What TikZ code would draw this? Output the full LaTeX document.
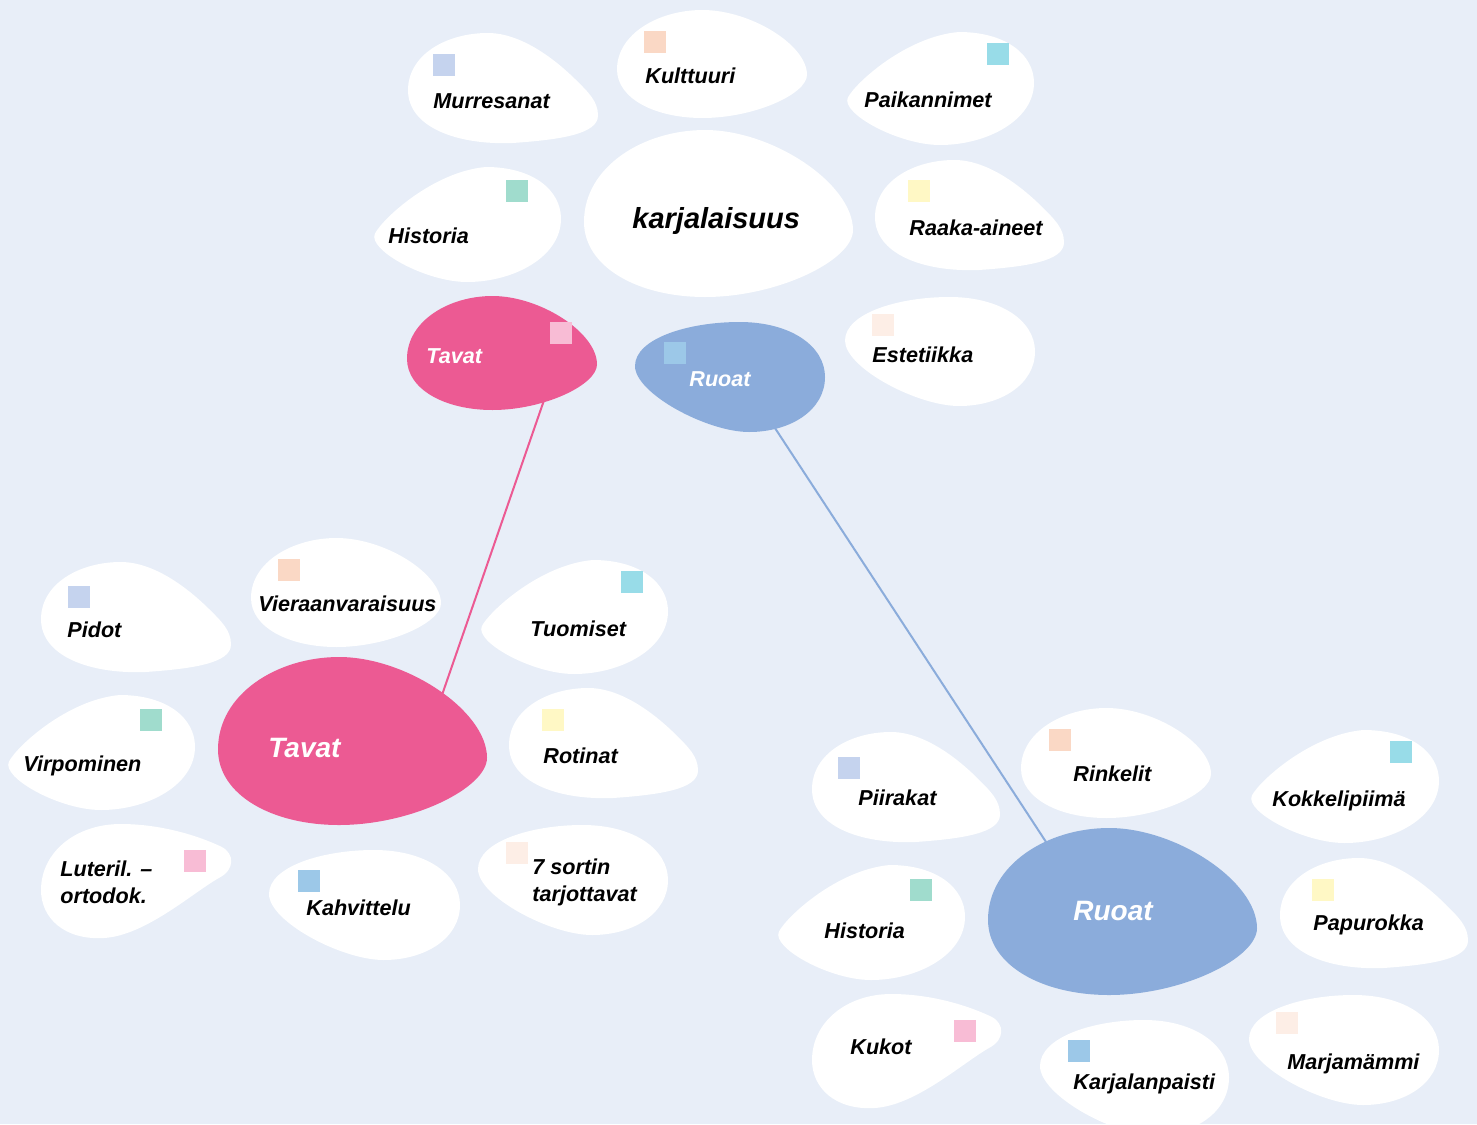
\documentclass[tikz,border=0pt]{standalone}
\usepackage{fontspec}
\setmainfont{Liberation Sans}
\definecolor{bg}{HTML}{E8EEF8}
\definecolor{tpink}{HTML}{EC5A93}
\definecolor{rblue}{HTML}{8BACDB}
\definecolor{clav}{HTML}{C5D3EE}
\definecolor{cpeach}{HTML}{FAD8C5}
\definecolor{ccyan}{HTML}{98DCE8}
\definecolor{cmint}{HTML}{A0DCCD}
\definecolor{cyell}{HTML}{FFF8C5}
\definecolor{cpink}{HTML}{F8BCD5}
\definecolor{csky}{HTML}{9CC8E8}
\definecolor{cblush}{HTML}{FDEEE6}
\tikzset{
blobA/.pic={\path[pic actions](0,.52) .. controls (0,.2) and (.2,0) .. (.42,0) .. controls (.6,0) and (.78,.25) .. (.88,.42) .. controls (.95,.54) and (1,.62) .. (1,.75) .. controls (1,.92) and (.8,.97) .. (.55,1) .. controls (.25,1.02) and (0,.85) .. (0,.52) -- cycle;},
blobB/.pic={\path[pic actions](0,.55) .. controls (0,.22) and (.22,0) .. (.45,0) .. controls (.7,0) and (1,.32) .. (1,.6) .. controls (1,.78) and (.72,1) .. (.45,1) .. controls (.2,1) and (0,.82) .. (0,.55) -- cycle;},
blobC/.pic={\path[pic actions](.01,.58) .. controls (.05,.45) and (.32,.04) .. (.6,0) .. controls (.85,0) and (1,.2) .. (1,.45) .. controls (1,.78) and (.75,1) .. (.5,1) .. controls (.28,1) and (-.03,.72) .. (.01,.58) -- cycle;},
blobD/.pic={\path[pic actions](0,.4) .. controls (0,.15) and (.28,0) .. (.55,0) .. controls (.82,0) and (1,.22) .. (1,.5) .. controls (1,.8) and (.82,1) .. (.6,1) .. controls (.38,1) and (0,.65) .. (0,.4) -- cycle;},
blobE/.pic={\path[pic actions](0,.58) .. controls (0,.25) and (.18,0) .. (.42,0) .. controls (.65,0) and (.85,.12) .. (.95,.2) .. controls (1.02,.26) and (1.02,.4) .. (.94,.47) .. controls (.8,.6) and (.55,.98) .. (.33,1) .. controls (.12,1.02) and (0,.82) .. (0,.58) -- cycle;}
}
\begin{document}
\begin{tikzpicture}[x=0.5pt,y=-0.5pt]
\tikzstyle{lb} = [anchor=base west,inner sep=0,font=\bfseries\itshape\fontsize{10.8}{13.5}\selectfont] %label
\tikzstyle{lm} = [lb,anchor=north west,align=left] %two-line label
\tikzstyle{lw} = [lb,text=white] %label on coloured blob
\tikzstyle{lbig} = [lw,font=\bfseries\itshape\fontsize{14}{16}\selectfont] %big label
\tikzstyle{sq} = [anchor=north west,inner sep=0,minimum size=11pt] %colour square
\tikzstyle{ln} = [line width=1pt] %connector
\useasboundingbox(0,0)rectangle(1477,1124);
\clip(0,0)rectangle(1477,1124);
\fill[bg](0,0)rectangle(1477,1124);
% connectors
\coordinate(ct1)at(552.6,375.4);
\coordinate(ct2)at(440.4,699.6);
\coordinate(cr1)at(768.6,418.3);
\coordinate(cr2)at(1052.4,851.7);
\draw[ln,tpink](ct1)--(ct2);
\draw[ln,rblue](cr1)--(cr2);
% top group
\pic[fill=white,xscale=190,yscale=110]at(408,33){blobA};
\pic[fill=white,xscale=190,yscale=108]at(617,10){blobB};
\pic[fill=white,xscale=188,yscale=113]at(846,32){blobC};
\pic[fill=white,xscale=188,yscale=115]at(373,167){blobC};
\pic[fill=white,xscale=269,yscale=167]at(584,130){blobB};
\pic[fill=white,xscale=189,yscale=110]at(875,160){blobA};
\pic[fill=tpink,xscale=190,yscale=114]at(407,296){blobB};
\pic[fill=rblue,xscale=190,yscale=110]at(635,322){blobD};
\pic[fill=white,xscale=190,yscale=109]at(845,297){blobD};
\node[sq,fill=clav](smur)at(433,54){};
\node[sq,fill=cpeach](skul)at(644,31){};
\node[sq,fill=ccyan](spai)at(987,43){};
\node[sq,fill=cmint](shis)at(506,180){};
\node[sq,fill=cyell](sraa)at(908,180){};
\node[sq,fill=cpink](stav)at(550,322){};
\node[sq,fill=csky](sruo)at(664,342){};
\node[sq,fill=cblush](sest)at(872,314){};
\node[lb](tmur)at(433,108){Murresanat};
\node[lb](tkul)at(645,83){Kulttuuri};
\node[lb](tpai)at(864,107){Paikannimet};
\node[lb](this)at(388,243){Historia};
\node[lb,font=\bfseries\itshape\fontsize{14.5}{16}\selectfont](tkar)at(632,228){karjalaisuus};
\node[lb](traa)at(909,235){Raaka-aineet};
\node[lw](ttav)at(426,363){Tavat};
\node[lw](truo)at(689,386){Ruoat};
\node[lb](test)at(872,362){Estetiikka};
% Tavat group
\pic[fill=white,xscale=190,yscale=110]at(41,562){blobA};
\pic[fill=white,xscale=190,yscale=109]at(251,538){blobB};
\pic[fill=white,xscale=188,yscale=114]at(480,560){blobC};
\pic[fill=tpink,xscale=269,yscale=168]at(218,657){blobB};
\pic[fill=white,xscale=188,yscale=115]at(7,695){blobC};
\pic[fill=white,xscale=189,yscale=110]at(509,688){blobA};
\pic[fill=white,xscale=190,yscale=114]at(41,824){blobE};
\pic[fill=white,xscale=191,yscale=110]at(269,850){blobD};
\pic[fill=white,xscale=190,yscale=110]at(478,825){blobD};
\node[sq,fill=clav](spid)at(68,586){};
\node[sq,fill=cpeach](svie)at(278,559){};
\node[sq,fill=ccyan](stuo)at(621,571){};
\node[sq,fill=cmint](svir)at(140,709){};
\node[sq,fill=cyell](srot)at(542,709){};
\node[sq,fill=cpink](slut)at(184,850){};
\node[sq,fill=csky](skah)at(298,870){};
\node[sq,fill=cblush](ssor)at(506,842){};
\node[lb](tpid)at(67,637){Pidot};
\node[lb](tvie)at(258,611){Vieraanvaraisuus};
\node[lb](ttuo)at(530,636){Tuomiset};
\node[lbig](tTav)at(268,757){Tavat};
\node[lb](tvir)at(23,771){Virpominen};
\node[lb](trot)at(543,763){Rotinat};
\node[lm](tlut)at(60,860.5){Luteril. –\\ortodok.};
\node[lb](tkah)at(306,915){Kahvittelu};
\node[lm](tsor)at(532,858.5){7 sortin\\tarjottavat};
% Ruoat group
\pic[fill=white,xscale=188,yscale=110]at(812,732){blobA};
\pic[fill=white,xscale=190,yscale=110]at(1021,708){blobB};
\pic[fill=white,xscale=189,yscale=113]at(1250,730){blobC};
\pic[fill=white,xscale=188,yscale=115]at(777,865){blobC};
\pic[fill=rblue,xscale=269,yscale=167]at(988,828){blobB};
\pic[fill=white,xscale=188,yscale=110]at(1280,858){blobA};
\pic[fill=white,xscale=189,yscale=114]at(812,994){blobE};
\pic[fill=white,xscale=189,yscale=115]at(1040,1020){blobD};
\pic[fill=white,xscale=190,yscale=110]at(1249,995){blobD};
\node[sq,fill=clav](spii)at(838,757){};
\node[sq,fill=cpeach](srin)at(1049,729){};
\node[sq,fill=ccyan](skok)at(1390,741){};
\node[sq,fill=cmint](shi2)at(910,879){};
\node[sq,fill=cyell](spap)at(1312,879){};
\node[sq,fill=cpink](skuk)at(954,1020){};
\node[sq,fill=csky](skrj)at(1068,1040){};
\node[sq,fill=cblush](smar)at(1276,1012){};
\node[lb](tpii)at(858,805){Piirakat};
\node[lb](trin)at(1073,781){Rinkelit};
\node[lb](tkok)at(1272,806){Kokkelipiimä};
\node[lb](thi2)at(824,938){Historia};
\node[lbig](tRuo)at(1073,920){Ruoat};
\node[lb](tpap)at(1313,930){Papurokka};
\node[lb](tkuk)at(850,1054){Kukot};
\node[lb](tkrj)at(1073,1089){Karjalanpaisti};
\node[lb](tmar)at(1287,1069){Marjamämmi};
\end{tikzpicture}
\end{document}
